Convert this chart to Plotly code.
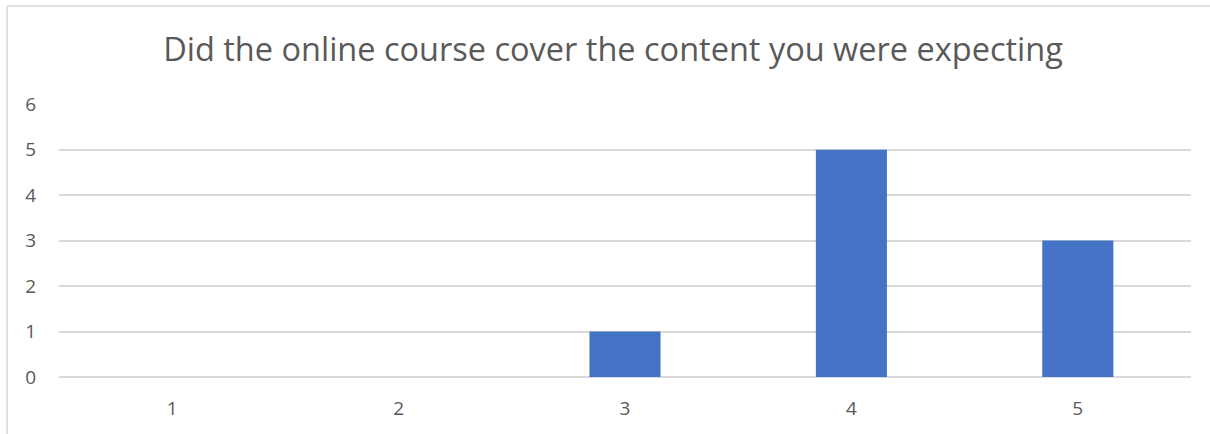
import plotly.graph_objects as go

categories = ["1", "2", "3", "4", "5"]
counts = [0, 0, 1, 5, 3]
y_ticks = [0, 1, 2, 3, 4, 5, 6]
title_text = "Did the online course cover the content you were expecting"

W, H = 1210, 434
L, R, T, B = 59, 19, 104, 57
pw, ph = W - L - R, H - T - B

fig = go.Figure(go.Bar(x=categories, y=counts, marker=dict(color="#4472C4", line=dict(width=0))))

fig.update_layout(
    width=W, height=H,
    margin=dict(l=L, r=R, t=T, b=B, pad=0),
    paper_bgcolor="white", plot_bgcolor="white",
    bargap=0.686,
    showlegend=False,
    title=dict(text=title_text, x=613 / W, xanchor="center", xref="container",
               y=1 - 50 / H, yanchor="middle",
               font=dict(family="Open Sans", size=32.5, color="#595959")),
    font=dict(family="Open Sans", color="#595959"),
)
fig.update_xaxes(type="category", showgrid=False, showline=False, zeroline=False, ticks="",
                 tickfont=dict(size=19, color="#595959"), ticklabelstandoff=18)
fig.update_yaxes(range=[0, 6.004], tickvals=y_ticks, showgrid=True, gridcolor="#D9D9D9", gridwidth=1.5,
                 zeroline=True, zerolinecolor="#D9D9D9", zerolinewidth=1.5, showline=False, ticks="",
                 tickfont=dict(size=19, color="#595959"), ticklabelstandoff=22)

# chart border (left and top edges)
x_left = (7 - L) / pw
y_top = (H - B - 6) / ph
x_right = (W - L) / pw
y_bot = (H - B - H) / ph
fig.add_shape(type="line", xref="paper", yref="paper", x0=x_left, x1=x_left, y0=y_bot, y1=y_top,
              line=dict(color="#D9D9D9", width=1.5))
fig.add_shape(type="line", xref="paper", yref="paper", x0=x_left, x1=x_right, y0=y_top, y1=y_top,
              line=dict(color="#D9D9D9", width=1.5))

fig.write_html("out.html", config={"displayModeBar": False},
               post_script="document.body.style.margin='0px';document.body.style.overflow='hidden';")
